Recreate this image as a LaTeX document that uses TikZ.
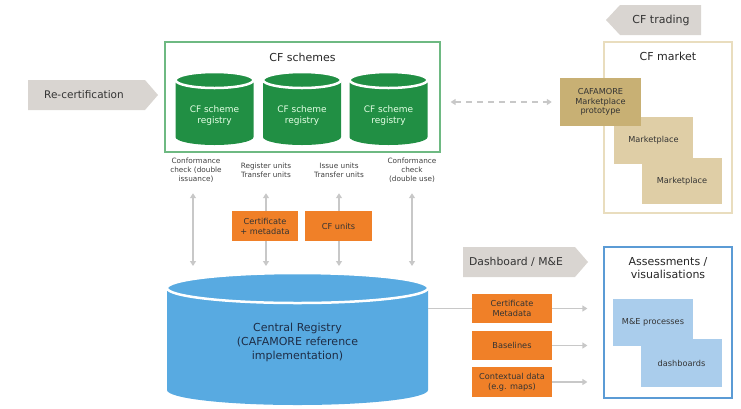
\documentclass[tikz,border=0pt]{standalone}
\usepackage{fontspec}
\setmainfont{DejaVu Sans}
\usetikzlibrary{arrows.meta}
\definecolor{tagfill}{RGB}{217,213,209}
\definecolor{arrowgrey}{RGB}{200,200,200}
\definecolor{regreen}{RGB}{33,143,68}
\definecolor{greenframe}{RGB}{110,185,130}
\definecolor{regblue}{RGB}{88,170,225}
\definecolor{unitorange}{RGB}{240,128,40}
\definecolor{tandark}{RGB}{200,176,116}
\definecolor{tanlight}{RGB}{223,206,166}
\definecolor{tanframe}{RGB}{233,221,190}
\definecolor{lightblue}{RGB}{170,205,236}
\definecolor{blueframe}{RGB}{91,155,213}
\definecolor{navytext}{RGB}{30,45,70}
% drum: fill, x centre, top y, bottom y, x radius, y radius
\def\drum[#1](#2,#3,#4,#5,#6){%
	\fill[#1] (#2-#5,#3) -- (#2-#5,#4) arc[start angle=180,end angle=0,x radius=#5,y radius=#6] -- (#2+#5,#3) -- cycle;
	\draw[white,line width=2.5pt,fill=#1] (#2,#3) ellipse[x radius=#5,y radius=#6];}

\begin{document}
\begin{tikzpicture}[x=1pt,y=-1pt,
	>={Triangle[length=5pt,width=6pt]},
	garrow/.style={draw=arrowgrey,line width=1.3pt},
	tag/.style={fill=tagfill},
	tagtext/.style={font=\fontsize{10.5}{13}\selectfont,text=black!80},
	frame/.style={draw,line width=1.2pt,inner sep=0pt},
	title/.style={font=\fontsize{11}{13.3}\selectfont,align=center,text=black!85},
	cyltext/.style={font=\fontsize{9}{11.5}\selectfont,align=center,text=white!90!green},
	smalllab/.style={font=\fontsize{7.3}{8.8}\selectfont,align=center,text=black!75,minimum height=30pt,inner sep=0pt},
	orangebox/.style={fill=unitorange,font=\fontsize{8.2}{10}\selectfont,align=center,text=black!80,inner sep=0pt},
	tanbox/.style={font=\fontsize{8.2}{9.6}\selectfont,align=center,text=black!80,inner sep=0pt},
	bluebox/.style={fill=lightblue,font=\fontsize{8.2}{10}\selectfont,align=center,text=black!80,inner sep=0pt}]
	%%%%% START %%%%%
	\useasboundingbox (0,0) rectangle (741,408);
	
	% re-certification
	\fill[tag] (28,80) -- (145,80) -- (158,95) -- (145,110) -- (28,110) -- cycle;
	\node[tagtext] (recert) at (84,95) {Re-certification};
	
	% CF schemes
	\node[frame,draw=greenframe,minimum width=275pt,minimum height=110pt] (schemes) at (302.5,97) {};
	\node[title] (schemestitle) at (302.5,57) {CF schemes};
	\drum[regreen](214.5,80,137,39,8)
	\drum[regreen](302,80,137,39,8)
	\drum[regreen](388.5,80,137,39,8)
	\node[cyltext] (reg1) at (214.5,115.5) {CF scheme\\registry};
	\node[cyltext] (reg2) at (302,115.5) {CF scheme\\registry};
	\node[cyltext] (reg3) at (388.5,115.5) {CF scheme\\registry};
	
	\node[smalllab] (lab1) at (196,170) {Conformance\\check (double\\issuance)};
	\node[smalllab] (lab2) at (266,170) {Register units\\Transfer units};
	\node[smalllab] (lab3) at (339,170) {Issue units\\Transfer units};
	\node[smalllab] (lab4) at (412,170) {Conformance\\check\\(double use)};
	
	% central registry
	\drum[regblue](297.5,288,390,130.5,15)
	\node[title,font=\fontsize{11}{14}\selectfont,text=navytext] (central) at (297.5,342) {Central Registry\\(CAFAMORE reference\\implementation)};
	
	\coordinate (rt1) at (193,266);
	\coordinate (rt2) at (266,266);
	\coordinate (rt3) at (339,266);
	\coordinate (rt4) at (412,266);
	\draw[garrow,<->,shorten <=8pt] (lab1.south -| rt1) -- (rt1);
	\draw[garrow,<->,shorten <=8pt] (lab2.south -| rt2) -- (rt2);
	\draw[garrow,<->,shorten <=8pt] (lab3.south -| rt3) -- (rt3);
	\draw[garrow,<->,shorten <=8pt] (lab4.south -| rt4) -- (rt4);
	
	\node[orangebox,minimum width=66pt,minimum height=30pt] (certmeta) at (265,226) {Certificate\\+ metadata};
	\node[orangebox,minimum width=67pt,minimum height=30pt] (cfunits) at (338.5,226) {CF units};
	
	% CF market
	\fill[tag] (701,5) -- (620,5) -- (606,20) -- (620,35) -- (701,35) -- cycle;
	\node[tagtext,font=\fontsize{11}{13}\selectfont] (trading) at (661,20) {CF trading};
	\node[frame,draw=tanframe,minimum width=128pt,minimum height=171pt] (market) at (668,127.5) {};
	\node[title] (markettitle) at (668,56) {CF market};
	\node[tanbox,fill=tanlight,minimum width=79pt,minimum height=47pt] (mp1) at (653.5,140.5) {Marketplace};
	\node[tanbox,fill=tanlight,minimum width=80pt,minimum height=46pt] (mp2) at (682,181) {Marketplace};
	\node[tanbox,fill=tandark,minimum width=81pt,minimum height=48pt] (proto) at (600.5,102) {CAFAMORE\\Marketplace\\prototype};
	\draw[garrow,<->,dash pattern=on 6pt off 5pt,shorten <=10pt,shorten >=8pt] (schemes.east |- proto) -- (proto.west);
	
	% dashboard
	\fill[tag] (463,247) -- (575,247) -- (588,262) -- (575,277) -- (463,277) -- cycle;
	\node[tagtext,font=\fontsize{10.8}{13}\selectfont] (dashtag) at (516,262) {Dashboard / M\&E};
	\node[frame,draw=blueframe,minimum width=128pt,minimum height=151pt] (assess) at (668,322.5) {};
	\node[title] (assesstitle) at (668,268) {Assessments /\\visualisations};
	\node[bluebox,minimum width=80pt,minimum height=47pt] (mep) at (653,322.5) {M\&E processes};
	\node[bluebox,minimum width=81pt,minimum height=48pt] (dashb) at (681.5,363) {dashboards};
	
	\node[orangebox,minimum width=80pt,minimum height=29pt] (cm2) at (512,308.5) {Certificate\\Metadata};
	\node[orangebox,minimum width=80pt,minimum height=29pt] (base) at (512,345.5) {Baselines};
	\node[orangebox,minimum width=80pt,minimum height=30pt] (ctx) at (512,382) {Contextual data\\(e.g. maps)};
	
	\coordinate (regeast) at (428,308.5);
	\draw[garrow] (regeast) -- (cm2.west);
	\draw[garrow,->,shorten >=16pt] (cm2.east) -- (cm2.east -| assess.west);
	\draw[garrow,->,shorten >=16pt] (base.east) -- (base.east -| assess.west);
	\draw[garrow,->,shorten >=16pt] (ctx.east) -- (ctx.east -| assess.west);
	
	%%%%% END %%%%%
\end{tikzpicture}
\end{document}
